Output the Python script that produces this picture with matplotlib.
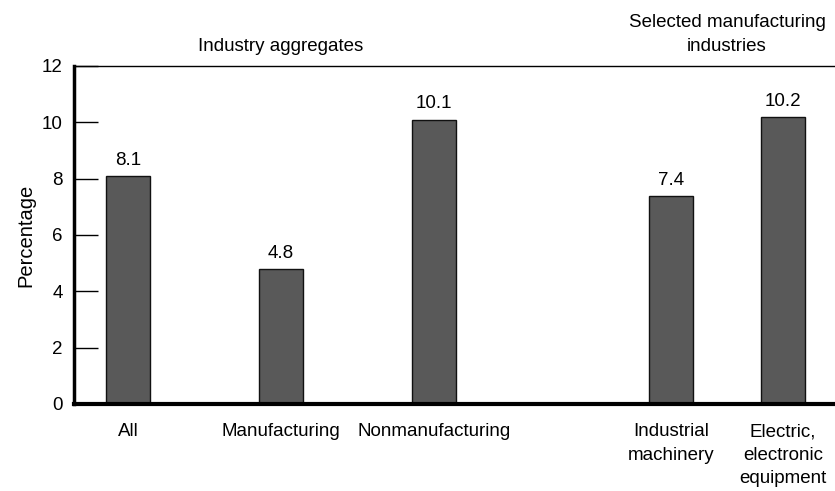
import matplotlib
matplotlib.use("Agg")
import matplotlib.pyplot as plt

plt.rcParams.update({
    "font.family": ["Liberation Sans", "DejaVu Sans"],
    "font.size": 13.5,
})

categories = ["All", "Manufacturing", "Nonmanufacturing",
              "Industrial\nmachinery", "Electric,\nelectronic\nequipment"]
values = [8.1, 4.8, 10.1, 7.4, 10.2]
positions = [0, 1, 2, 3.55, 4.28]
group_titles = ["Industry aggregates", "Selected manufacturing\nindustries"]
y_ticks = [0, 2, 4, 6, 8, 10, 12]

fig = plt.figure(figsize=(8.35, 4.91), dpi=100)
ax = fig.add_axes([0.0886, 0.1772, 0.9114, 0.6884])

ax.bar(positions, values, width=0.29, color="#595959", edgecolor="#111111", linewidth=1)
for x, v in zip(positions, values):
    ax.text(x, v + 0.25, f"{v:.1f}", ha="center", va="bottom", fontsize=13.5)

ax.set_xlim(-0.353, 4.62)
ax.set_ylim(0, 12)
ax.set_yticks(y_ticks)
ax.tick_params(axis="y", direction="in", length=17, width=1, pad=8, labelsize=13.5)
ax.set_xticks(positions)
ax.set_xticklabels(categories, fontsize=13.5, linespacing=1.5)
ax.tick_params(axis="x", length=0, pad=14)
ax.set_ylabel("Percentage", fontsize=14.5, labelpad=5)

ax.spines["right"].set_visible(False)
ax.spines["left"].set_linewidth(2.5)
ax.spines["bottom"].set_linewidth(3)
ax.spines["top"].set_linewidth(1)

ax.text(1, 12.4, group_titles[0], ha="center", va="bottom", fontsize=13.5)
ax.text(3.915, 12.4, group_titles[1], ha="center", va="bottom", fontsize=13.5,
        linespacing=1.5)

fig.savefig("out.png", dpi=100)
